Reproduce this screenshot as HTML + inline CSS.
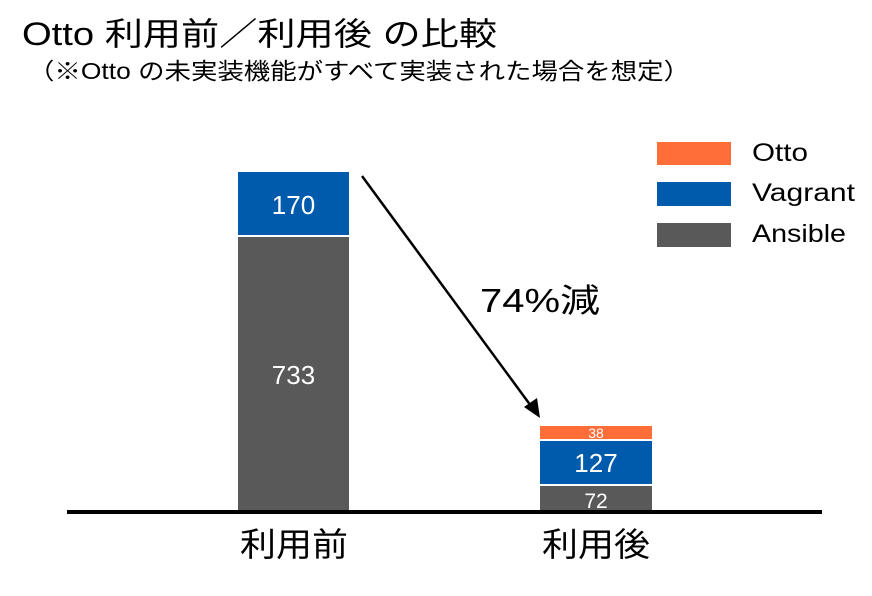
<!DOCTYPE html>
<html><head><meta charset="utf-8"><style>
body{margin:0;background:#fff;}
svg text{font-family:"Liberation Sans","Noto Sans CJK JP",sans-serif;}
</style></head><body>
<svg width="872" height="591" xmlns="http://www.w3.org/2000/svg">
<text x="22" y="45" font-size="32" fill="#000" textLength="475" lengthAdjust="spacingAndGlyphs">Otto 利用前／利用後 の比較</text>
<text x="28" y="79" font-size="23" fill="#000" textLength="662" lengthAdjust="spacingAndGlyphs">（※Otto の未実装機能がすべて実装された場合を想定）</text>
<rect x="238" y="172" width="111" height="63" fill="#005bac"/>
<rect x="238" y="237" width="111" height="275" fill="#595959"/>
<text x="293.5" y="214" font-size="26" fill="#fff" text-anchor="middle">170</text>
<text x="293.5" y="384" font-size="26" fill="#fff" text-anchor="middle">733</text>
<rect x="540" y="426" width="112" height="13" fill="#ff6d38"/>
<rect x="540" y="441" width="112" height="43" fill="#005bac"/>
<rect x="540" y="486" width="112" height="26" fill="#595959"/>
<text x="596" y="438" font-size="14" fill="#fff" text-anchor="middle">38</text>
<text x="596" y="472" font-size="26" fill="#fff" text-anchor="middle">127</text>
<text x="596" y="508" font-size="21" fill="#fff" text-anchor="middle">72</text>
<rect x="67" y="510" width="755" height="4" fill="#000"/>
<text x="240" y="556" font-size="33" fill="#000" textLength="108" lengthAdjust="spacingAndGlyphs">利用前</text>
<text x="542" y="556" font-size="33" fill="#000" textLength="108" lengthAdjust="spacingAndGlyphs">利用後</text>
<line x1="362" y1="176" x2="531" y2="406" stroke="#000" stroke-width="2.5"/>
<polygon points="540,418 524,407 537,398" fill="#000"/>
<text x="480" y="312" font-size="33" fill="#000" textLength="120" lengthAdjust="spacingAndGlyphs">74%減</text>
<rect x="657" y="142" width="74" height="23" fill="#ff6d38"/>
<rect x="657" y="182" width="74" height="24" fill="#005bac"/>
<rect x="657" y="223" width="74" height="24" fill="#595959"/>
<text x="752" y="161" font-size="25" fill="#000" textLength="56" lengthAdjust="spacingAndGlyphs">Otto</text>
<text x="752" y="201" font-size="25" fill="#000" textLength="103" lengthAdjust="spacingAndGlyphs">Vagrant</text>
<text x="752" y="242" font-size="25" fill="#000" textLength="94" lengthAdjust="spacingAndGlyphs">Ansible</text>
</svg>
</body></html>
